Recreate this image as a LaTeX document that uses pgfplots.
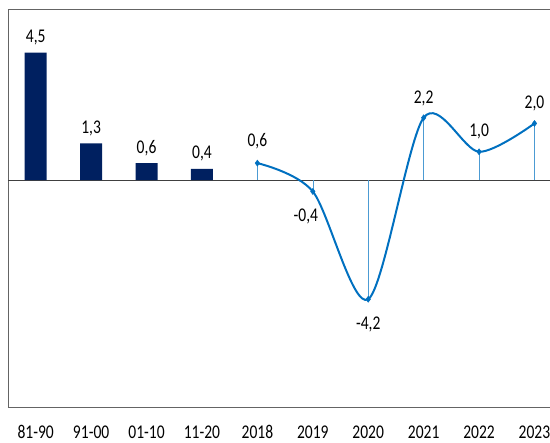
\documentclass[border=0pt]{standalone}
\usepackage{fontspec}
\setmainfont[FakeStretch=0.8]{Carlito}
\usepackage{pgfplots}
\pgfplotsset{compat=1.18}
\definecolor{navy}{RGB}{0,32,96}
\definecolor{lblue}{RGB}{0,112,192}
\definecolor{axgray}{RGB}{100,100,100}
\newcommand{\lf}{\fontsize{19.5}{22}\selectfont}
\begin{document}
\begin{tikzpicture}
\useasboundingbox (-8bp,-36bp) rectangle (542bp,407bp);
\begin{axis}[
  at={(0,0)}, anchor=south west,
  scale only axis, width=542bp, height=397bp,
  xmin=-0.5, xmax=9.28, ymin=-8, ymax=6,
  axis x line=bottom, axis y line=left,
  axis line style={-, axgray, line width=1pt},
  ytick=\empty,
  xtick={0,1,2,3,4,5,6,7,8,9},
  xticklabels={81-90,91-00,01-10,11-20,2018,2019,2020,2021,2022,2023},
  major tick length=0pt,
  xticklabel style={yshift=-15bp, font=\lf, text=black},
  clip=false,
]
\draw[axgray, line width=1pt] (rel axis cs:0,1) -- (rel axis cs:1,1);
\addplot[black!75, line width=0.9pt, no marks, forget plot] coordinates {(-0.5,0) (9.28,0)};
\addplot[ybar, bar width=22bp, fill=navy, draw=none,
  nodes near coords, point meta=explicit symbolic,
  nodes near coords style={font=\lf, anchor=center, yshift=15bp, text=black}]
  coordinates {(0,4.5)[4,5] (1,1.3)[1,3] (2,0.6)[0,6] (3,0.4)[0,4]};
\addplot[ycomb, lblue!70, line width=0.6pt, no marks]
  coordinates {(4,0.6) (5,-0.4) (6,-4.2) (7,2.2) (8,1.0) (9,2.0)};
\addplot[lblue, line width=2pt, smooth, mark=diamond*, mark size=3pt, mark options={fill=lblue, line width=0.5pt}]
  coordinates {(4,0.6) (5,-0.4) (6,-4.2) (7,2.2) (8,1.0) (9,2.0)};
\node[font=\lf] at ([yshift=22bp]axis cs:4,0.6) {0,6};
\node[font=\lf] at ([xshift=-7bp,yshift=-25bp]axis cs:5,-0.4) {-0,4};
\node[font=\lf] at ([yshift=-25bp]axis cs:6,-4.2) {-4,2};
\node[font=\lf] at ([yshift=19bp]axis cs:7,2.2) {2,2};
\node[font=\lf] at ([yshift=20bp]axis cs:8,1.0) {1,0};
\node[font=\lf] at ([yshift=20bp]axis cs:9,2.0) {2,0};
\end{axis}
\end{tikzpicture}
\end{document}
